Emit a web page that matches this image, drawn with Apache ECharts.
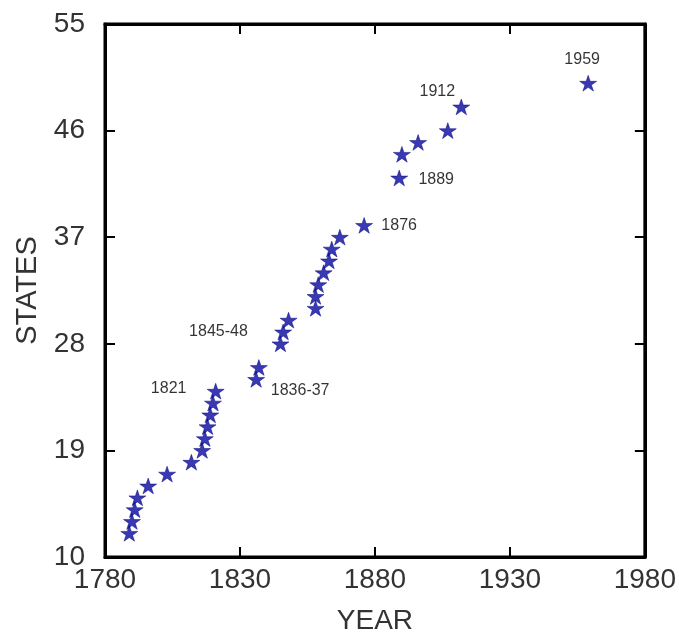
<!DOCTYPE html>
<html>
<head>
<meta charset="utf-8">
<script src="https://cdn.jsdelivr.net/npm/echarts@6/dist/echarts.min.js"></script>
<style>
  html, body { margin: 0; padding: 0; background: #fff; overflow: hidden; }
  #chart { width: 679px; height: 640px; }
</style>
</head>
<body>
<div id="chart"></div>
<script>
// year a state count was reached, and the count
var years = [1789, 1790, 1791, 1792, 1796, 1803, 1812, 1816, 1817, 1818, 1819, 1820, 1821,
  1836, 1837, 1845, 1846, 1848, 1858, 1858, 1859, 1861, 1863, 1864, 1867, 1876,
  1889, 1890, 1896, 1907, 1912, 1959];
var states = [12, 13, 14, 15, 16, 17, 18, 19, 20, 21, 22, 23, 24,
  25, 26, 28, 29, 30, 31, 32, 33, 34, 35, 36, 37, 38,
  42, 44, 45, 46, 48, 50];

// annotations, attached to a point (by its state count)
var noteStates = [50, 48, 42, 38, 28, 25, 24];
var noteTexts = ["1959", "1912", "1889", "1876", "1845-48", "1836-37", "1821"];

var xTicks = [1780, 1830, 1880, 1930, 1980];
var yTicks = [10, 19, 28, 37, 46, 55];

// text offsets from the star centre
var noteOffsets = [[-6, -24], [-24, -15], [37, 2], [35, 0], [-62, -12], [44, 11], [-47, -3]];

var star = "path://M50,0 L61.8,35.3 L100,35.3 L69.1,57.1 L80.9,92.7 L50,70.7 L19.1,92.7 L30.9,57.1 L0,35.3 L38.2,35.3 Z";

var myChart = echarts.init(document.getElementById("chart"));

var points = years.map(function (y, i) {
  var item = { value: [y, states[i]] };
  var k = noteStates.indexOf(states[i]);
  if (k >= 0) {
    item.label = {
      show: true,
      formatter: noteTexts[k],
      position: "inside",
      offset: noteOffsets[k]
    };
  }
  return item;
});

var tickFont = {
  fontFamily: "Liberation Sans, Arial, sans-serif",
  fontSize: 28,
  color: "#333",
  formatter: function (v) { return String(v); }
};

var option = {
  animation: false,
  backgroundColor: "#fff",
  grid: {
    left: 105,
    right: 28,
    top: 24,
    bottom: 80,
    show: true,
    borderColor: "#000",
    borderWidth: 3
  },
  xAxis: [
    {
      type: "value",
      min: 1780,
      max: 1980,
      name: "YEAR",
      nameLocation: "middle",
      nameGap: 50,
      nameTextStyle: { fontFamily: "Liberation Sans, Arial, sans-serif", fontSize: 28, color: "#333" },
      axisLine: { show: true, lineStyle: { color: "#000", width: 3 } },
      axisTick: { show: true, inside: true, length: 10, customValues: xTicks, lineStyle: { color: "#000", width: 2 } },
      axisLabel: Object.assign({ margin: 9, customValues: xTicks }, tickFont),
      splitLine: { show: false }
    },
    {
      type: "value",
      position: "top",
      min: 1780,
      max: 1980,
      axisLine: { show: true, lineStyle: { color: "#000", width: 3 } },
      axisTick: { show: true, inside: true, length: 10, customValues: xTicks, lineStyle: { color: "#000", width: 2 } },
      axisLabel: { show: false },
      splitLine: { show: false }
    }
  ],
  yAxis: [
    {
      type: "value",
      min: 10,
      max: 55,
      name: "STATES",
      nameLocation: "middle",
      nameGap: 62,
      nameTextStyle: { fontFamily: "Liberation Sans, Arial, sans-serif", fontSize: 29, color: "#333" },
      axisLine: { show: true, lineStyle: { color: "#000", width: 3 } },
      axisTick: { show: true, inside: true, length: 10, customValues: yTicks, lineStyle: { color: "#000", width: 2 } },
      axisLabel: Object.assign({ margin: 20, customValues: yTicks }, tickFont),
      splitLine: { show: false }
    },
    {
      type: "value",
      position: "right",
      min: 10,
      max: 55,
      axisLine: { show: true, lineStyle: { color: "#000", width: 3 } },
      axisTick: { show: true, inside: true, length: 10, customValues: yTicks, lineStyle: { color: "#000", width: 2 } },
      axisLabel: { show: false },
      splitLine: { show: false }
    }
  ],
  series: [
    {
      name: "states",
      type: "scatter",
      symbol: star,
      symbolSize: 17,
      symbolKeepAspect: true,
      itemStyle: { color: "#0808a0", borderColor: "#03037a", borderWidth: 0.6 },
      label: {
        fontFamily: "Liberation Sans, Arial, sans-serif",
        fontSize: 16,
        color: "#000",
        align: "center",
        verticalAlign: "middle"
      },
      data: points
    }
  ]
};

myChart.setOption(option);
</script>
</body>
</html>
